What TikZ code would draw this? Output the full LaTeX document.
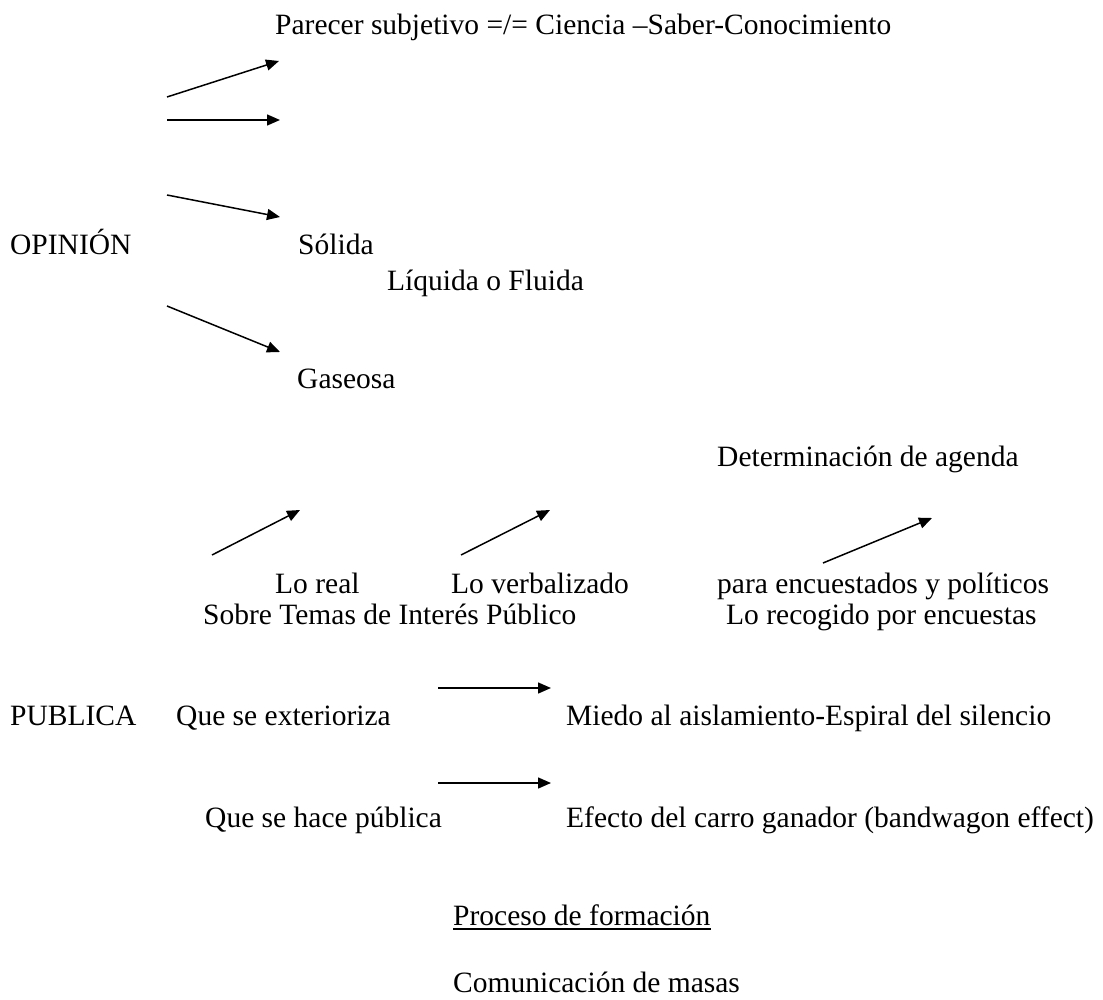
\documentclass[tikz,border=0pt]{standalone}
\usepackage{fontspec}
\setmainfont{Liberation Serif}
\usepackage{tikz}
\usetikzlibrary{arrows.meta}
\tikzstyle{txt} = [anchor=base west, inner sep=0pt, font=\fontsize{29.5}{35}\selectfont]
\tikzstyle{arrow} = [line width=1.5pt, -{Triangle[length=13pt,width=11pt]}]
\begin{document}
\begin{tikzpicture}[x=1pt, y=-1pt]
    \useasboundingbox (0,0) rectangle (1103,1000);
    % opinion
    \node (parecer) [txt] at (275,35) {Parecer subjetivo =/= Ciencia –Saber-Conocimiento};
    \node (opinion) [txt] at (10,255) {OPINIÓN};
    \node (solida) [txt] at (298,255) {Sólida};
    \node (liquida) [txt] at (387,291) {Líquida o Fluida};
    \node (gaseosa) [txt] at (297,388) {Gaseosa};
    % publica
    \node (agenda) [txt] at (717,466) {Determinación de agenda};
    \node (real) [txt] at (275,593) {Lo real};
    \node (verbal) [txt] at (451,593) {Lo verbalizado};
    \node (encuest) [txt] at (717,593) {para encuestados y políticos};
    \node (temas) [txt] at (203,624) {Sobre Temas de Interés Público};
    \node (recogido) [txt] at (726,624) {Lo recogido por encuestas};
    \node (publica) [txt] at (10,725) {PUBLICA};
    \node (exterior) [txt] at (176,725) {Que se exterioriza};
    \node (miedo) [txt] at (566,725) {Miedo al aislamiento-Espiral del silencio};
    \node (hace) [txt] at (205,827) {Que se hace pública};
    \node (efecto) [txt] at (566,827) {Efecto del carro ganador (bandwagon effect)};
    \node (proceso) [txt] at (453,925) {Proceso de formación};
    \node (masas) [txt] at (453,992) {Comunicación de masas};
    \draw [line width=2pt] ([yshift=-4pt]proceso.base west) -- ([yshift=-4pt]proceso.base east);
    % arrow ends
    \coordinate (a1s) at (167,97);  \coordinate (a1e) at (279,61);
    \coordinate (a2s) at (167,120); \coordinate (a2e) at (280,120);
    \coordinate (a3s) at (167,195); \coordinate (a3e) at (280,217);
    \coordinate (a4s) at (167,306); \coordinate (a4e) at (280,352);
    \coordinate (a5s) at (212,555); \coordinate (a5e) at (300,510);
    \coordinate (a6s) at (461,555); \coordinate (a6e) at (550,510);
    \coordinate (a7s) at (823,563); \coordinate (a7e) at (932,518);
    \coordinate (a8s) at (438,688); \coordinate (a8e) at (551,688);
    \coordinate (a9s) at (438,783); \coordinate (a9e) at (551,783);
    \draw [arrow] (a1s) -- (a1e);
    \draw [arrow] (a2s) -- (a2e);
    \draw [arrow] (a3s) -- (a3e);
    \draw [arrow] (a4s) -- (a4e);
    \draw [arrow] (a5s) -- (a5e);
    \draw [arrow] (a6s) -- (a6e);
    \draw [arrow] (a7s) -- (a7e);
    \draw [arrow] (a8s) -- (a8e);
    \draw [arrow] (a9s) -- (a9e);
\end{tikzpicture}
\end{document}
